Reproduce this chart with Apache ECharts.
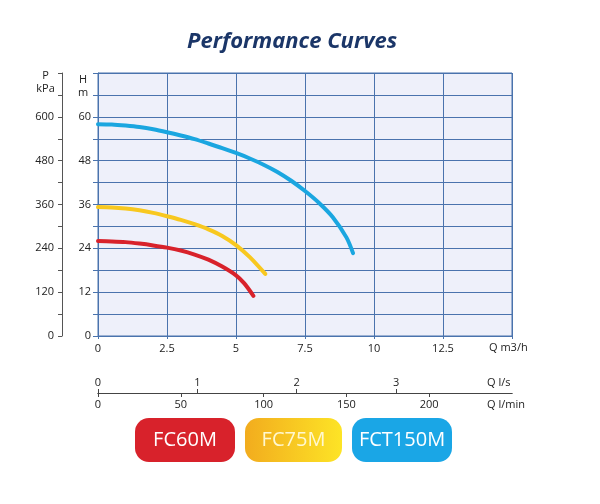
<!DOCTYPE html>
<html><head><meta charset="utf-8">
<script src="https://cdn.jsdelivr.net/npm/echarts@6/dist/echarts.min.js"></script>
<style>html,body{margin:0;padding:0;background:#fff}#c{width:600px;height:504px}</style>
</head><body><div id="c"></div>
<script>
// Data
const seriesNames = ['FC60M', 'FC75M', 'FCT150M'];
const fc60Q = [0, 0.5, 1, 1.5, 2, 2.5, 3, 3.5, 4, 4.5, 5, 5.3, 5.63];
const fc60H = [26, 25.9, 25.7, 25.3, 24.8, 24.2, 23.4, 22.3, 20.9, 19.0, 16.6, 14.4, 11.0];
const fc75Q = [0, 0.5, 1, 1.5, 2, 2.5, 3, 3.5, 4, 4.5, 5, 5.5, 6.06];
const fc75H = [35.3, 35.2, 34.9, 34.4, 33.7, 32.8, 31.8, 30.6, 29.2, 27.4, 24.9, 21.6, 17.0];
const fct150Q = [0, 0.5, 1, 1.5, 2, 2.5, 3, 3.5, 4, 4.5, 5, 5.5, 6, 6.5, 7, 7.5, 8, 8.5, 9, 9.24];
const fct150H = [58, 57.9, 57.6, 57.2, 56.6, 55.8, 54.9, 53.9, 52.7, 51.45, 50.1, 48.6, 46.9, 44.9, 42.5, 39.7, 36.5, 32.6, 27.0, 22.7];
const qM3hTicks = [0, 2.5, 5, 7.5, 10, 12.5];
const qLsTicks = [0, 1, 2, 3];
const qLminTicks = [0, 50, 100, 150, 200];
const hTicks = [0, 12, 24, 36, 48, 60];
const kpaTicks = [0, 120, 240, 360, 480, 600];

const font = 'Open Sans';
const blue = '#4a73ad';
const colors = ['#d8222b', '#f8c81f', '#1aa6e0'];
const pairs = (q, h) => q.map((v, i) => [v, h[i]]);

const chart = echarts.init(document.getElementById('c'));
const badge = (bg, color, w) => ({
  width: w, height: 44, align: 'center', verticalAlign: 'middle', lineHeight: 44,
  backgroundColor: bg, borderRadius: 14, color: color, fontSize: 20, fontFamily: font
});
chart.setOption({
  animation: false,
  title: {
    text: 'Performance Curves', left: 182, top: 26,
    textStyle: { fontSize: 22, fontStyle: 'italic', fontWeight: 'bold', color: '#1b3668', fontFamily: font }
  },
  legend: {
    left: 125, top: 413, itemGap: 5, itemWidth: 0, itemHeight: 0,
    data: seriesNames.map(n => ({ name: n, icon: 'none' })),
    formatter: n => '{b' + seriesNames.indexOf(n) + '|' + n + '}',
    textStyle: {
      rich: {
        b0: badge('#d8222b', '#ffffff', 100),
        b1: badge({ type: 'linear', x: 0, y: 0, x2: 1, y2: 0, colorStops: [{ offset: 0, color: '#f2ac1e' }, { offset: 1, color: '#fde426' }] }, '#fff8d0', 97),
        b2: badge('#1aa6e6', '#ffffff', 100)
      }
    }
  },
  grid: { left: 98, right: 88, top: 73, bottom: 168, show: true, backgroundColor: '#eef0fa', borderColor: blue, borderWidth: 1 },
  xAxis: [
    {
      type: 'value', min: 0, max: 15, interval: 2.5, position: 'bottom',
      axisLine: { show: true, lineStyle: { color: blue, width: 1 } },
      axisTick: { show: true, length: 3, lineStyle: { color: blue } },
      splitLine: { show: true, lineStyle: { color: blue, width: 1 } },
      axisLabel: { customValues: qM3hTicks, color: '#222', fontSize: 11, fontFamily: font, margin: 7 },
      name: 'Q m3/h', nameLocation: 'end', nameGap: -23,
      nameTextStyle: { align: 'left', verticalAlign: 'top', padding: [6, 0, 0, 0], color: '#222', fontSize: 11, fontFamily: font }
    },
    {
      type: 'value', min: 0, max: 250 / 60, position: 'bottom', offset: 57,
      axisLine: { show: true, onZero: false, lineStyle: { color: '#444', width: 1 } },
      axisTick: { show: true, inside: true, length: 4, customValues: qLsTicks, lineStyle: { color: '#444' } },
      splitLine: { show: false },
      axisLabel: { inside: true, customValues: qLsTicks, color: '#222', fontSize: 11, fontFamily: font, margin: 5 },
      name: 'Q l/s', nameLocation: 'end', nameGap: -25,
      nameTextStyle: { align: 'left', verticalAlign: 'bottom', padding: [0, 0, 5, 0], color: '#222', fontSize: 11, fontFamily: font }
    },
    {
      type: 'value', min: 0, max: 250, position: 'bottom', offset: 57,
      axisLine: { show: true, onZero: false, lineStyle: { color: '#444', width: 1 } },
      axisTick: { show: true, length: 4, customValues: qLminTicks, lineStyle: { color: '#444' } },
      splitLine: { show: false },
      axisLabel: { customValues: qLminTicks, color: '#222', fontSize: 11, fontFamily: font, margin: 6 },
      name: 'Q l/min', nameLocation: 'end', nameGap: -25,
      nameTextStyle: { align: 'left', verticalAlign: 'top', padding: [6, 0, 0, 0], color: '#222', fontSize: 11, fontFamily: font }
    }
  ],
  yAxis: [
    {
      type: 'value', min: 0, max: 72, interval: 6, position: 'left',
      axisLine: { show: true, onZero: false, lineStyle: { color: blue } },
      axisTick: { show: true, length: 5, lineStyle: { color: blue } },
      splitLine: { show: true, lineStyle: { color: blue, width: 1 } },
      axisLabel: { customValues: hTicks, color: '#222', fontSize: 11, fontFamily: font, margin: 7 },
      name: 'H\nm', nameLocation: 'end', nameGap: -13,
      nameTextStyle: { align: 'center', verticalAlign: 'middle', lineHeight: 13, padding: [0, 30, 0, 0], color: '#222', fontSize: 11, fontFamily: font }
    },
    {
      type: 'value', min: 0, max: 720, interval: 60, position: 'left', offset: 36,
      axisLine: { show: true, onZero: false, lineStyle: { color: '#555' } },
      axisTick: { show: true, length: 4, lineStyle: { color: '#555' } },
      splitLine: { show: false },
      axisLabel: { customValues: kpaTicks, color: '#222', fontSize: 11, fontFamily: font, margin: 8 },
      name: 'P\nkPa', nameLocation: 'end', nameGap: -9,
      nameTextStyle: { align: 'center', verticalAlign: 'middle', lineHeight: 13, padding: [0, 33, 0, 0], color: '#222', fontSize: 11, fontFamily: font }
    }
  ],
  series: [
    { name: seriesNames[0], data: pairs(fc60Q, fc60H) },
    { name: seriesNames[1], data: pairs(fc75Q, fc75H) },
    { name: seriesNames[2], data: pairs(fct150Q, fct150H) }
  ].map((s, i) => Object.assign(s, {
    type: 'line', xAxisIndex: 0, yAxisIndex: 0, smooth: 0.3, showSymbol: false, symbol: 'none',
    color: colors[i], lineStyle: { width: 4, color: colors[i], cap: 'round' }
  }))
});
</script></body></html>
